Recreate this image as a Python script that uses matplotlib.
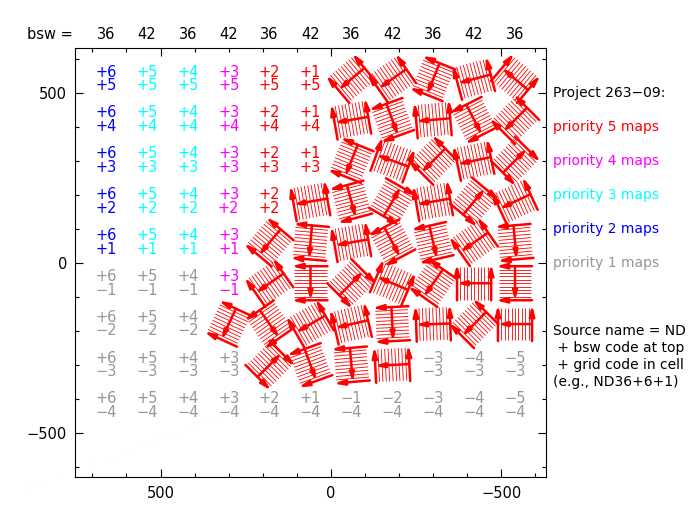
import numpy as np
import matplotlib
matplotlib.use("Agg")
import matplotlib.pyplot as plt
from matplotlib.collections import LineCollection
from matplotlib.ticker import MultipleLocator, FixedLocator
from matplotlib.transforms import blended_transform_factory

# ---- data ----
col_codes = ['+6', '+5', '+4', '+3', '+2', '+1', '−1', '−2', '−3', '−4', '−5']
col_x = [660, 540, 420, 300, 180, 60, -60, -180, -300, -420, -540]
bsw_codes = [36, 42, 36, 42, 36, 42, 36, 42, 36, 42, 36]
row_codes = ['+5', '+4', '+3', '+2', '+1', '−1', '−2', '−3', '−4']
row_y = [540, 420, 300, 180, 60, -60, -180, -300, -420]

# priority of each cell (rows x cols)
priority = [
    [2, 3, 3, 4, 5, 5, 5, 5, 5, 5, 5],
    [2, 3, 3, 4, 5, 5, 5, 5, 5, 5, 5],
    [2, 3, 3, 4, 5, 5, 5, 5, 5, 5, 5],
    [2, 3, 3, 4, 5, 5, 5, 5, 5, 5, 5],
    [2, 3, 3, 4, 5, 5, 5, 5, 5, 5, 5],
    [1, 1, 1, 4, 5, 5, 5, 5, 5, 5, 5],
    [1, 1, 1, 5, 5, 5, 5, 5, 5, 5, 5],
    [1, 1, 1, 1, 5, 5, 5, 5, 1, 1, 1],
    [1, 1, 1, 1, 1, 1, 1, 1, 1, 1, 1],
]

nan = np.nan
# scan position angle (deg, screen frame) of completed maps; NaN = not yet observed
map_angle = [
    [nan, nan, nan, nan, nan, nan, 130, 125, 158, 105, 50],
    [nan, nan, nan, nan, nan, nan, 100, 200, 95, 207, 135],
    [nan, nan, nan, nan, nan, nan, 158, 70, 135, 102, -45],
    [nan, nan, nan, nan, nan, 100, 195, -30, 100, -40, 115],
    [nan, nan, nan, nan, 140, 175, 100, 208, 193, 125, 185],
    [nan, nan, nan, nan, 125, 180, 315, 67, 145, 90, 180],
    [nan, nan, nan, 155, 215, 120, 103, 183, 92, 135, 90],
    [nan, nan, nan, nan, 315, 200, 185, 93, nan, nan, nan],
    [nan, nan, nan, nan, nan, nan, nan, nan, nan, nan, nan],
]

prio_colors = {1: '#969696', 2: '#0000ff', 3: '#00ffff', 4: '#ff00ff', 5: '#ff0000'}
legend_lines = [('Project 263−09:', 'black'),
                ('priority 5 maps', prio_colors[5]),
                ('priority 4 maps', prio_colors[4]),
                ('priority 3 maps', prio_colors[3]),
                ('priority 2 maps', prio_colors[2]),
                ('priority 1 maps', prio_colors[1])]
legend_y = [500, 400, 300, 200, 100, 0]
note_lines = ['Source name = ND', ' + bsw code at top', ' + grid code in cell', '(e.g., ND36+6+1)']
note_y = [-200, -250, -300, -350]

# ---- figure ----
fig = plt.figure(figsize=(6.94, 5.15), dpi=100)
ax = fig.add_axes([0.1085, 0.0732, 0.6778, 0.8330])
ax.set_xlim(750, -630)
ax.set_ylim(-630, 630)

for s in ax.spines.values():
    s.set_linewidth(0.8)
ax.xaxis.set_major_locator(FixedLocator([500, 0, -500]))
ax.yaxis.set_major_locator(FixedLocator([-500, 0, 500]))
ax.xaxis.set_minor_locator(MultipleLocator(100))
ax.yaxis.set_minor_locator(MultipleLocator(100))
ax.tick_params(which='both', direction='in', top=True, right=True, width=0.8,
               labelsize=10.5, pad=6)
ax.tick_params(which='major', length=6)
ax.tick_params(which='minor', length=3)
ax.set_xticklabels(['500', '0', '−500'])
ax.set_yticklabels(['−500', '0', '500'])

half = 50
hatch_lines = []
for i, yc in enumerate(row_y):
    for j, xc in enumerate(col_x):
        ang = map_angle[i][j]
        if np.isnan(ang):
            col = prio_colors[priority[i][j]]
            ax.text(xc, yc + 20, col_codes[j], color=col, fontsize=10.5,
                    ha='center', va='center')
            ax.text(xc, yc - 20, row_codes[i], color=col, fontsize=10.5,
                    ha='center', va='center')
            continue
        t = np.deg2rad(ang)
        eu = np.array([-np.cos(t), np.sin(t)])   # data frame (x reversed)
        ev = np.array([np.sin(t), np.cos(t)])
        c = np.array([xc, yc])

        def P(u, v):
            return c + u * eu + v * ev
        # scan lines
        for v in np.arange(-40, 41, 10):
            hatch_lines.append([P(-half + 2, v), P(half - 2, v)])
        # two edge scans with arrows
        for v in (-half, half):
            ax.annotate('', xy=P(half + 6, v), xytext=P(-half, v),
                        arrowprops=dict(arrowstyle='-|>,head_length=0.6,head_width=0.16',
                                        lw=1.8, color='red', shrinkA=0, shrinkB=0))
        # cross scan
        ax.annotate('', xy=P(0, half), xytext=P(0, -half),
                    arrowprops=dict(arrowstyle='-|>,head_length=0.5,head_width=0.14',
                                    lw=1.8, color='red', shrinkA=0, shrinkB=0))

ax.add_collection(LineCollection(hatch_lines, colors='red', linewidths=0.6))

# bsw labels on top
trans = blended_transform_factory(ax.transData, ax.transAxes)
ax.text(-0.054, 1.033, 'bsw =', transform=ax.transAxes, fontsize=10.5,
        ha='center', va='center')
for xc, b in zip(col_x, bsw_codes):
    ax.text(xc, 1.033, str(b), transform=trans, fontsize=10.5,
            ha='center', va='center')

# right-hand legend
for (txt, col), yv in zip(legend_lines, legend_y):
    ax.text(-652, yv, txt, color=col, fontsize=10, ha='left', va='center',
            clip_on=False)
for txt, yv in zip(note_lines, note_y):
    ax.text(-652, yv, txt, color='black', fontsize=10, ha='left', va='center',
            clip_on=False)

fig.savefig('out.png', dpi=100)
